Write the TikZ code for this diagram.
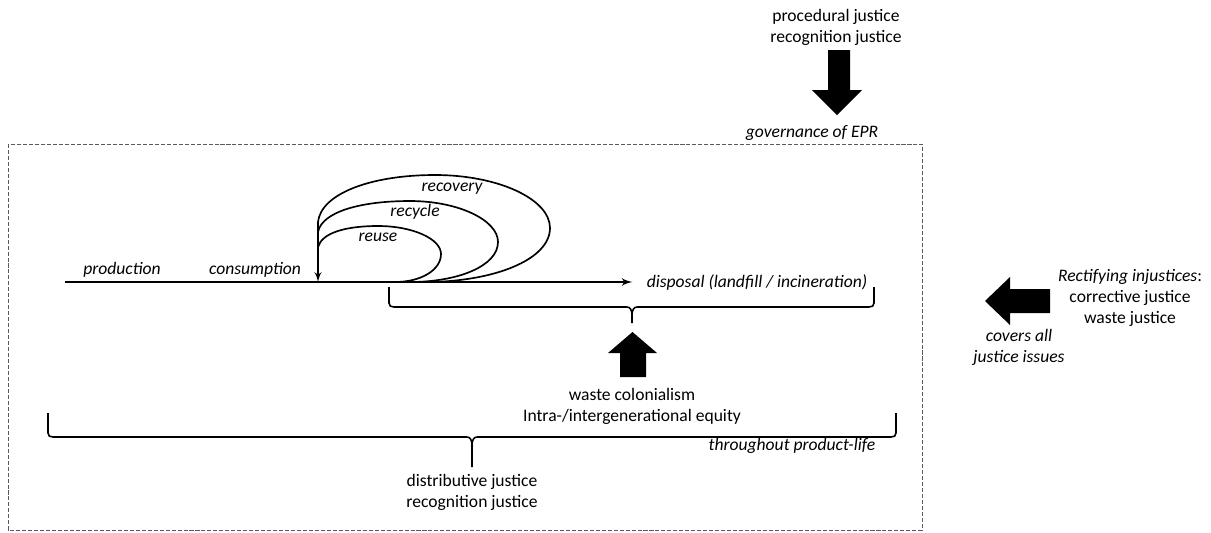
\documentclass[tikz,border=0pt]{standalone}
\usepackage{fontspec}
\setmainfont{Carlito}
\usepackage{tikz}
\usetikzlibrary{arrows}
\definecolor{box_gray}{RGB}{90,90,90}

% curly brace as drawn in the original figure: left x, right x, tip x, end y, bar y, tip y
\newcommand{\wordbrace}[6]{%
  \draw[brace] (#1,#4) -- (#1,#5-4) .. controls +(0,3) and +(-3,0) .. (#1+5,#5) -- (#3-5,#5)
    .. controls +(3,0) and +(0,-5) .. (#3,#5+8) -- (#3,#6);
  \draw[brace] (#3,#5+8) .. controls +(0,-5) and +(-3,0) .. (#3+5,#5) -- (#2-5,#5)
    .. controls +(3,0) and +(0,3) .. (#2,#5-4) -- (#2,#4);
}

\begin{document}
\begin{tikzpicture}[x=0.02cm,y=-0.02cm,>=latex']
    \tikzstyle{lbl}=[inner sep=0pt, align=center, font=\fontsize{10}{12}\selectfont, text=black]
    \tikzstyle{ilbl}=[lbl, font=\fontsize{10}{12}\selectfont\itshape]
    \tikzstyle{mainline}=[line width=1.1pt]
    \tikzstyle{loopline}=[line width=0.95pt]
    \tikzstyle{brace}=[line width=0.9pt]
    \tikzstyle{epr}=[draw=box_gray, line width=0.5pt, dash pattern=on 2.3pt off 1.1pt]

    \useasboundingbox (0,0) rectangle (1211,532);

    % governance frame
    \draw[epr] (8,144) rectangle (922,530);

    \node[lbl]  (proc)    at (836,27.5)  {procedural justice\\recognition justice};
    \node[ilbl] (gov)     at (812,133)   {governance of EPR};
    \node[ilbl] (prod)    at (122,270)   {production};
    \node[ilbl] (cons)    at (255,270)   {consumption};
    \node[ilbl] (reuse)   at (378,237)   {reuse};
    \node[ilbl] (recycle) at (415,212)   {recycle};
    \node[ilbl] (recov)   at (452,189)   {recovery};
    \node[ilbl] (disp)    at (757,282)   {disposal (landfill / incineration)};
    \node[lbl]  (colon)   at (632,406)   {waste colonialism\\Intra-/intergenerational equity};
    \node[ilbl] (life)    at (792,446)   {throughout product-life};
    \node[lbl]  (distr)   at (472,492)   {distributive justice\\recognition justice};
    \node[lbl]  (rect)    at (1130,298)  {\textit{Rectifying injustices}:\\corrective justice\\waste justice};
    \node[ilbl] (covers)  at (1019,347.5) {covers all\\justice issues};

    % product chain
    \coordinate (start)    at (65,282);
    \coordinate (loopin)   at (318,222);
    \coordinate (consumed) at (318,282);
    \draw[mainline,->,shorten >=8pt] (start) -- (start -| disp.west);
    \draw[loopline,->] (loopin) -- (consumed);

    % loops back to consumption
    \draw[loopline] (318,247) .. controls +(4,-14) and +(-33,0) .. (378,226)
      .. controls +(35,0) and +(0,-15) .. (441,254) .. controls +(0,16) and +(26,0) .. (395,282);
    \draw[loopline] (318,232) .. controls +(4,-20) and +(-50,0) .. (410,201)
      .. controls +(48,0) and +(0,-22) .. (498,242) .. controls +(0,24) and +(48,0) .. (410,282);
    \draw[loopline] (318,222) .. controls +(3,-28) and +(-65,0) .. (435,175)
      .. controls +(63,0) and +(0,-29) .. (550,228) .. controls +(0,32) and +(68,0) .. (425,282);

    % braces
    \wordbrace{389}{874}{632}{287}{307}{323}
    \wordbrace{48}{896}{472}{413}{437}{467}

    % block arrows
    \fill (828,50) -- (850,50) -- (850,90) -- (862,90) -- (837,115) -- (812,90) -- (828,90) -- cycle;
    \fill (620,377) -- (646,377) -- (646,353) -- (657,353) -- (632.5,332) -- (608,353) -- (620,353) -- cycle;
    \fill (1050,289) -- (1050,313) -- (1010,313) -- (1010,325) -- (985,301) -- (1010,277) -- (1010,289) -- cycle;
\end{tikzpicture}
\end{document}
